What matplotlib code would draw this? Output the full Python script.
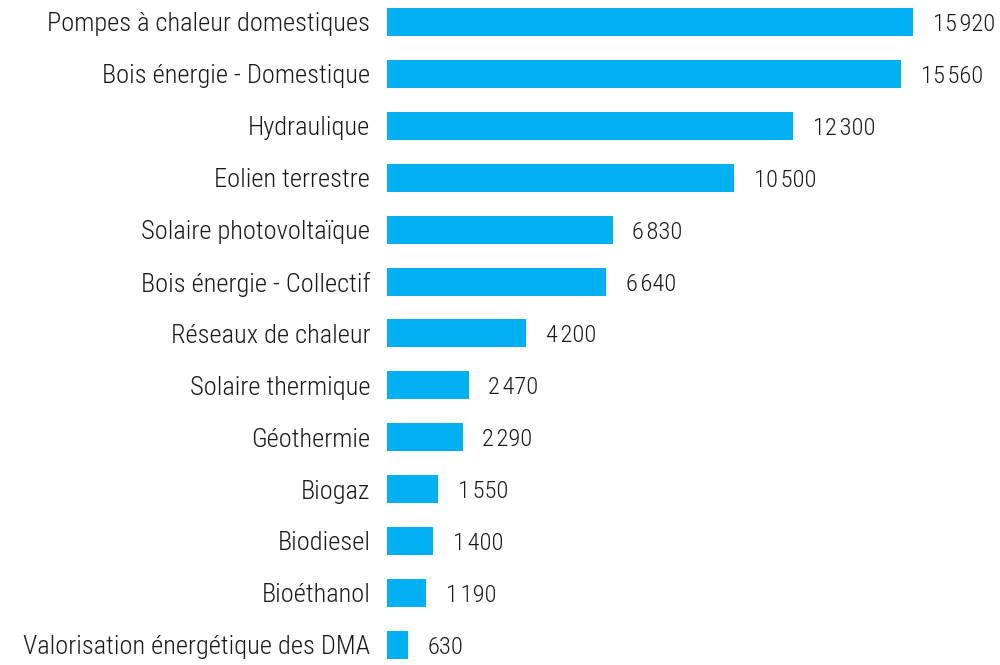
import matplotlib
matplotlib.use("Agg")
import matplotlib.pyplot as plt
from matplotlib import font_manager as fm

categories = ["Pompes à chaleur domestiques", "Bois énergie - Domestique", "Hydraulique",
              "Eolien terrestre", "Solaire photovoltaïque", "Bois énergie - Collectif",
              "Réseaux de chaleur", "Solaire thermique", "Géothermie", "Biogaz",
              "Biodiesel", "Bioéthanol", "Valorisation énergétique des DMA"]
values = [15920, 15560, 12300, 10500, 6830, 6640, 4200, 2470, 2290, 1550, 1400, 1190, 630]

names = {f.name for f in fm.fontManager.ttflist}
family = "DejaVu Sans"
for cand in ["Roboto Condensed", "Liberation Sans Narrow", "Open Sans Condensed", "Roboto"]:
    if cand in names:
        family = cand
        break
plt.rcParams['font.family'] = [family, 'DejaVu Sans']
plt.rcParams['font.weight'] = 'light'

fig = plt.figure(figsize=(10, 6.65), dpi=100)
ax = fig.add_axes([0.387, 0.0, 0.613, 1.0])

SEP = "\u200a"
def fmt(v):
    return f"{v:,}".replace(",", SEP)

# choose font sizes so texts are about as wide as in the reference
renderer = fig.canvas.get_renderer()
probe = fig.text(0, 0, categories[-1], fontsize=20)
w = probe.get_window_extent(renderer).width
probe.remove()
fs = min(20 * 360 / w, 19)
probe = fig.text(0, 0, fmt(values[0]), fontsize=20)
w2 = probe.get_window_extent(renderer).width
probe.remove()
fs_num = min(20 * 62 / w2, fs)

px_per_unit = 51.9
n = len(categories)
ypos = list(range(n))
ax.barh(ypos, values, height=28 / px_per_unit, color="#00B0F0")
top = -22 / px_per_unit
ax.set_ylim(top + 665 / px_per_unit, top)
ax.set_xlim(0, 18553)
ax.set_yticks(ypos)
ax.set_yticklabels(categories, fontsize=fs, color="#1a1a1a")
ax.tick_params(axis='y', length=0, pad=12)
ax.set_xticks([])
for s in ax.spines.values():
    s.set_visible(False)
for y, v in zip(ypos, values):
    ax.text(v + 600, y + 0.05, fmt(v), va="center", ha="left", fontsize=fs_num, color="#1a1a1a")

fig.savefig("out.png", dpi=100)
